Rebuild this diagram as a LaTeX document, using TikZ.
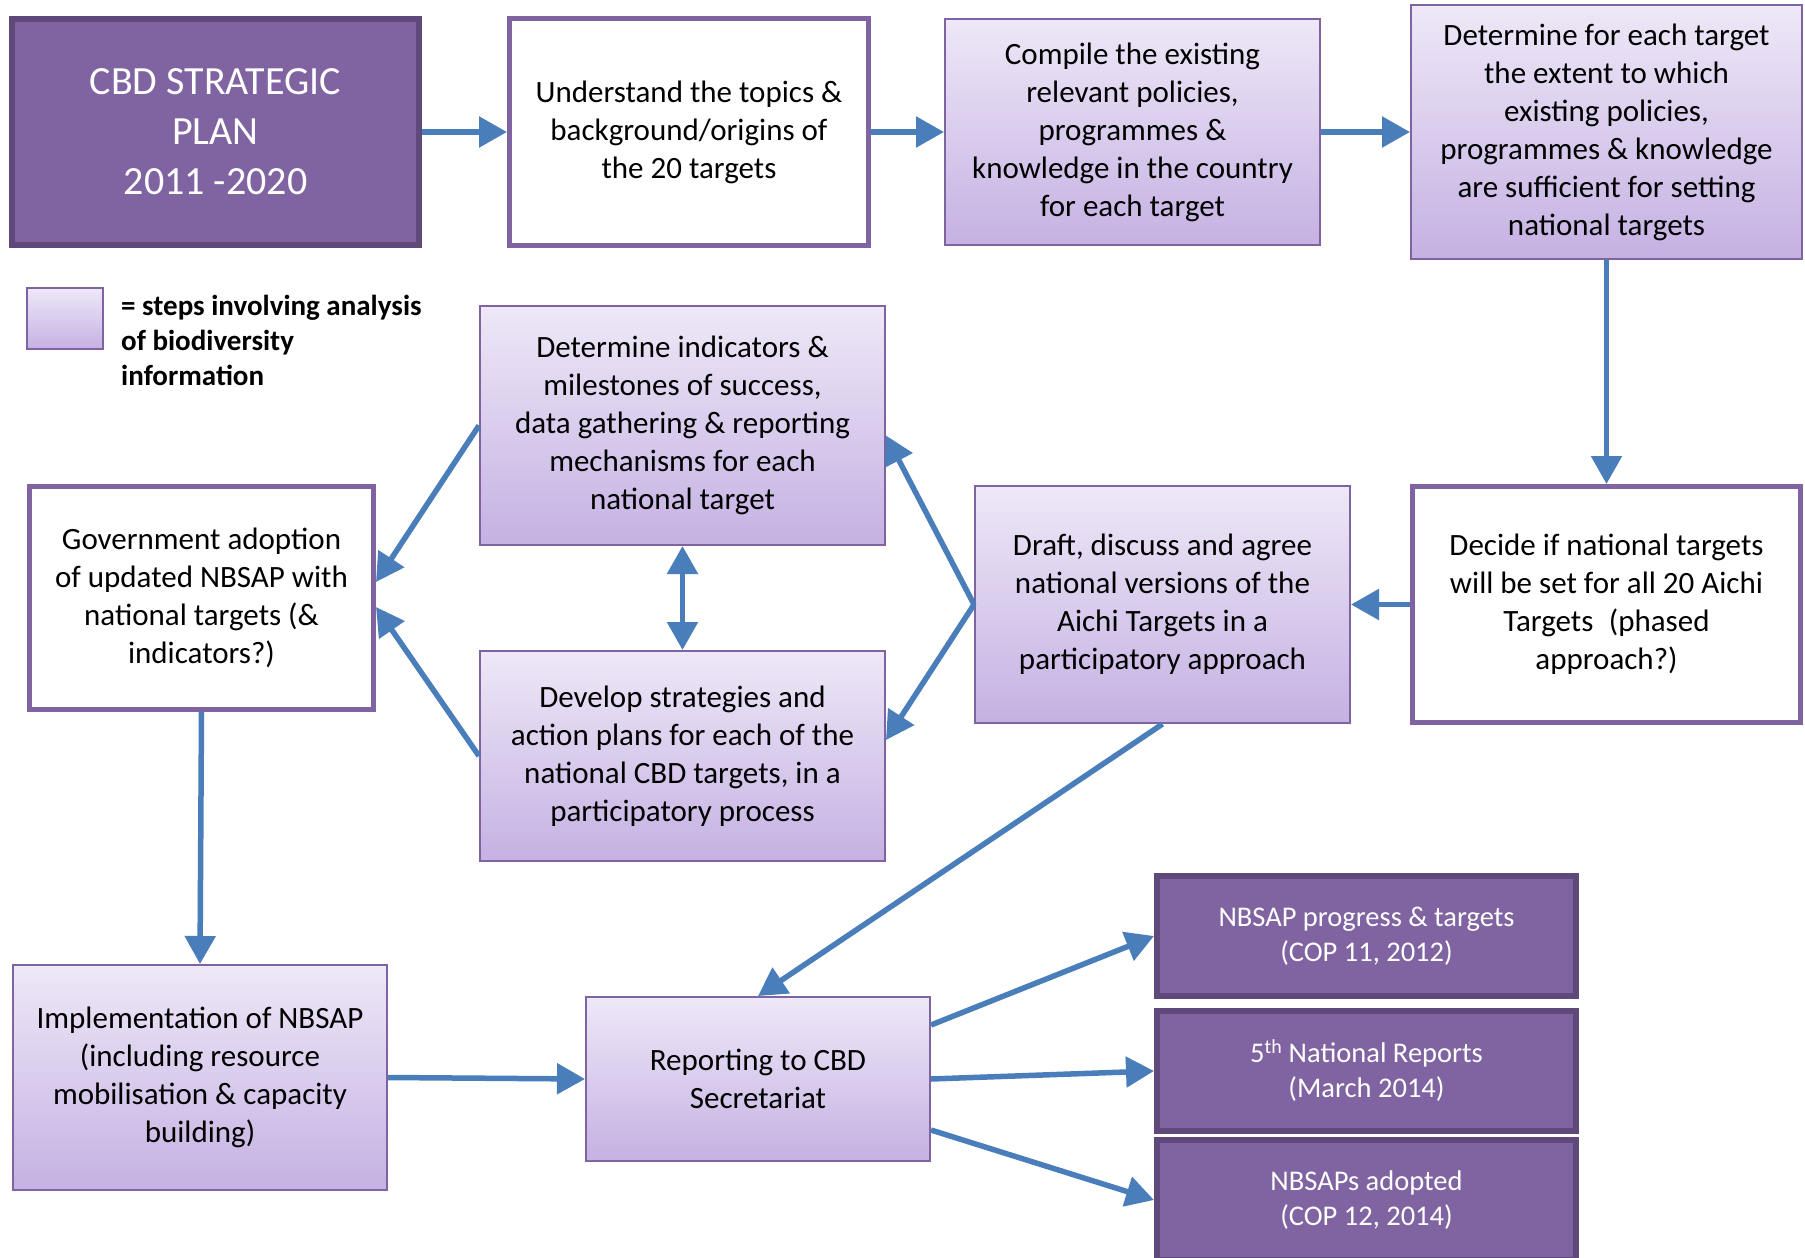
\documentclass[tikz,border=0pt]{standalone}
\usepackage{fontspec}
\setmainfont{Carlito}
\usetikzlibrary{arrows.meta}
\definecolor{purp}{HTML}{8064A2}
\definecolor{purpdark}{HTML}{5F497A}
\definecolor{gtop}{HTML}{EEE8F7}
\definecolor{gbot}{HTML}{C5B1E3}
\definecolor{arrowblue}{HTML}{4A7EBB}
\begin{document}
\begin{tikzpicture}[x=1pt,y=-1pt,
  box/.style={rectangle, align=center, inner sep=0pt, font=\fontsize{31}{38}\selectfont},
  darkbox/.style={box, fill=purp, draw=purpdark, line width=6pt, text=white},
  whitebox/.style={box, fill=white, draw=purp, line width=5pt},
  gradbox/.style={box, top color=gtop, bottom color=gbot, draw=purp, line width=2pt},
  arr/.style={draw=arrowblue, line width=5.5pt, -{Triangle[length=28pt,width=30pt]}},
  dblarr/.style={draw=arrowblue, line width=5.5pt, {Triangle[length=28pt,width=30pt]}-{Triangle[length=28pt,width=30pt]}},
]
\useasboundingbox (0,0) rectangle (1805,1258);
\fill[white] (0,0) rectangle (1805,1258);
\clip (0,0) rectangle (1805,1258);

% top row
\node[darkbox, minimum width=407pt, minimum height=226pt, font=\fontsize{40}{50}\selectfont] (cbd) at (215.5,132) {CBD STRATEGIC\\PLAN\\2011 -2020};
\node[whitebox, minimum width=359pt, minimum height=227pt] (und) at (689,132) {Understand the topics \&\\background/origins of\\the 20 targets};
\node[gradbox, minimum width=375pt, minimum height=226pt] (comp) at (1132.5,132) {Compile the existing\\relevant policies,\\programmes \&\\knowledge in the country\\for each target};
\node[gradbox, minimum width=391pt, minimum height=254pt] (ext) at (1606.5,132) {Determine for each target\\the extent to which\\existing policies,\\programmes \& knowledge\\are sufficient for setting\\national targets};

% legend
\node[gradbox, minimum width=76pt, minimum height=61pt] (leg) at (65,318.5) {};
\node[anchor=west, align=left, inner sep=0pt, font=\bfseries\fontsize{29}{35}\selectfont] (legtxt) at (121,340) {= steps involving analysis\\of biodiversity\\information};

% middle
\node[gradbox, minimum width=405pt, minimum height=239pt] (ind) at (682.5,425.5) {Determine indicators \&\\milestones of success,\\data gathering \& reporting\\mechanisms for each\\national target};
\node[gradbox, minimum width=405pt, minimum height=210pt] (dev) at (682.5,756) {Develop strategies and\\action plans for each of the\\national CBD targets, in a\\participatory process};
\node[whitebox, minimum width=344pt, minimum height=223pt] (gov) at (201.5,598) {Government adoption\\of updated NBSAP with\\national targets (\&\\indicators?)};
\node[gradbox, minimum width=375pt, minimum height=237pt] (draft) at (1162.5,604.5) {Draft, discuss and agree\\national versions of the\\Aichi Targets in a\\participatory approach};
\node[whitebox, minimum width=388pt, minimum height=236pt] (dec) at (1606.5,604.5) {Decide if national targets\\will be set for all 20 Aichi\\Targets\enspace(phased\\approach?)};

% bottom
\node[gradbox, minimum width=374pt, minimum height=225pt] (impl) at (200,1077.5) {Implementation of NBSAP\\(including resource\\mobilisation \& capacity\\building)};
\node[gradbox, minimum width=344pt, minimum height=164pt] (rep) at (758,1079) {Reporting to CBD\\Secretariat};
\node[darkbox, minimum width=419pt, minimum height=120pt, font=\fontsize{28.5}{35}\selectfont] (prog) at (1366.5,936) {NBSAP progress \& targets\\(COP 11, 2012)};
\node[darkbox, minimum width=419pt, minimum height=120pt, font=\fontsize{28.5}{35}\selectfont] (fifth) at (1366.5,1071) {5\textsuperscript{th} National Reports\\(March 2014)};
\node[darkbox, minimum width=419pt, minimum height=120pt, font=\fontsize{28.5}{35}\selectfont] (adopt) at (1366.5,1200) {NBSAPs adopted\\(COP 12, 2014)};

% connectors
\draw[arr] (cbd.east) -- (und.west);
\draw[arr] (und.east) -- (comp.west);
\draw[arr] (comp.east) -- (ext.west);
\draw[arr] (ext.south) -- (dec.north);
\draw[arr] (dec.west) -- (draft.east);
\draw[arr] (draft.west) -- ([yshift=-10pt]ind.east);
\draw[arr] (draft.west) -- ([yshift=16pt]dev.east);
\draw[dblarr] (ind.south) -- (dev.north);
\draw[arr] (ind.west) -- ([yshift=16pt]gov.east);
\draw[arr] (dev.west) -- ([yshift=-9pt]gov.east);
\draw[arr] (gov.south) -- (impl.north);
\draw[arr] (impl.east) -- (rep.west);
\draw[arr] (draft.south) -- (rep.north);
\draw[arr] ([yshift=54pt]rep.east) -- (prog.west);
\draw[arr] (rep.east) -- (fifth.west);
\draw[arr] ([yshift=-51pt]rep.east) -- (adopt.west);
\end{tikzpicture}
\end{document}
